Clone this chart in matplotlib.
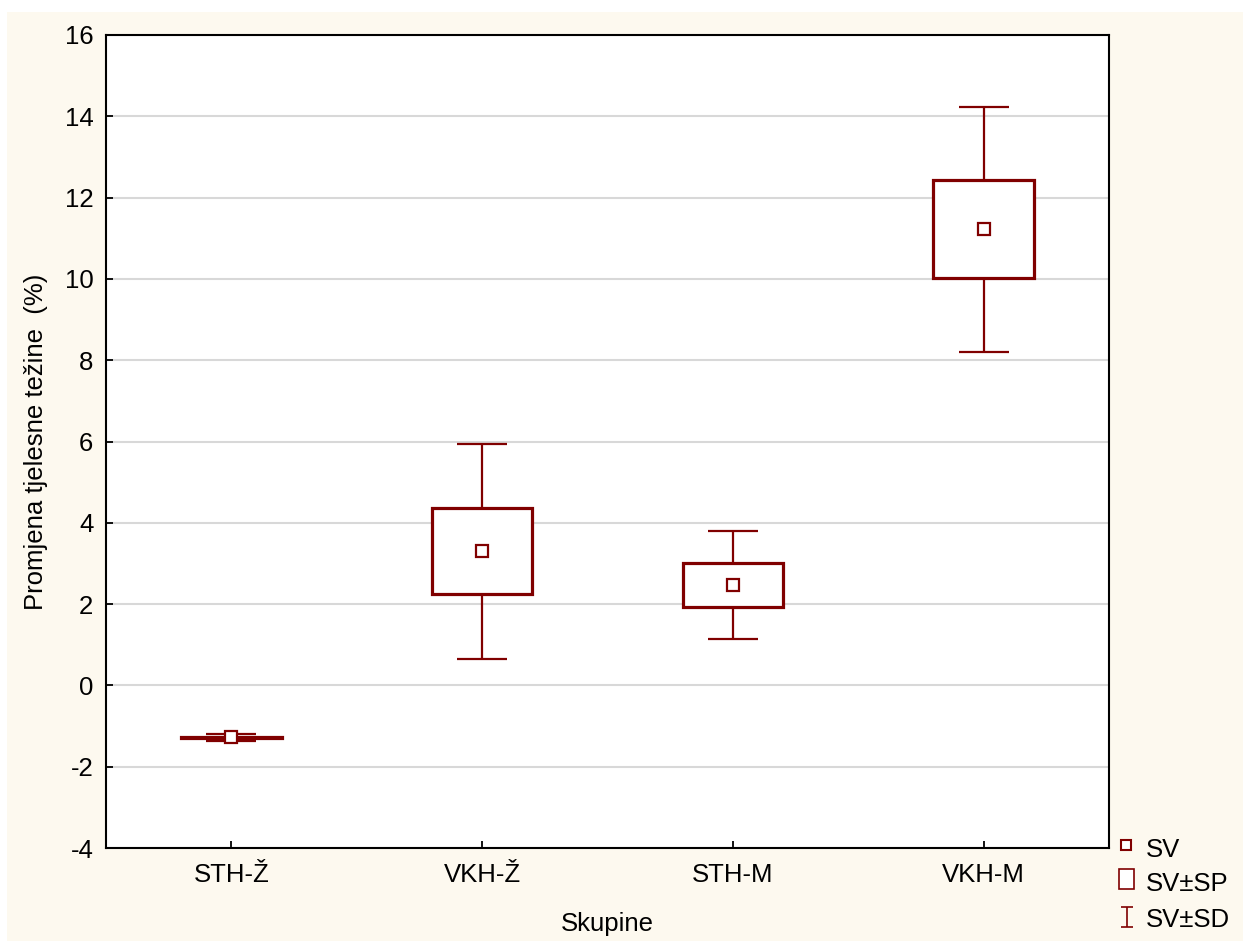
import matplotlib

matplotlib.use("Agg")

import matplotlib.font_manager as fm
import matplotlib.pyplot as plt
from matplotlib.patches import Rectangle

# drop the narrow variant so "Liberation Sans" resolves to the regular face
fm.fontManager.ttflist = [f for f in fm.fontManager.ttflist if "Narrow" not in f.fname]
plt.rcParams["font.family"] = ["Liberation Sans", "DejaVu Sans"]
plt.rcParams["axes.unicode_minus"] = False

# group statistics (mean, standard error, standard deviation)
groups = ["STH-Ž", "VKH-Ž", "STH-M", "VKH-M"]
means = [-1.28, 3.30, 2.47, 11.22]
se = [0.02, 1.06, 0.53, 1.21]
sd = [0.09, 2.64, 1.33, 3.02]
yticks = [-4, -2, 0, 2, 4, 6, 8, 10, 12, 14, 16]

RED = "#800000"
CREAM = "#fdf9ef"
FS = 18.5

fig = plt.figure(figsize=(12.47, 9.41), dpi=100, facecolor="white")
fig.patches.append(Rectangle((7 / 1247, 0), 1236 / 1247, 929 / 941, transform=fig.transFigure,
                             facecolor=CREAM, edgecolor="none", zorder=-10))
ax = fig.add_axes([106 / 1247, 1 - 848 / 941, 1003 / 1247, 813 / 941])
ax.set_facecolor("white")

box_w = 0.4
cap_w = 0.2
for i, (m, s, d) in enumerate(zip(means, se, sd)):
    x = i + 1
    ax.vlines(x, m + s, m + d, color=RED, lw=1.6, zorder=3)
    ax.vlines(x, m - d, m - s, color=RED, lw=1.6, zorder=3)
    ax.hlines([m - d, m + d], x - cap_w / 2, x + cap_w / 2, color=RED, lw=1.6, zorder=3)
    ax.add_patch(Rectangle((x - box_w / 2, m - s), box_w, 2 * s, facecolor="white",
                           edgecolor=RED, lw=2.3, zorder=4))
    ax.plot(x, m, marker="s", ms=8, mfc="white", mec=RED, mew=1.6, zorder=5)

ax.set_xlim(0.5, 4.5)
ax.set_ylim(-4, 16)
ax.set_yticks(yticks)
ax.set_xticks(range(1, len(groups) + 1))
ax.set_xticklabels(groups)
ax.yaxis.grid(True, color="#d8d8d8", lw=1.5, zorder=0)
ax.set_axisbelow(True)
ax.tick_params(direction="in", length=5, width=1.3, labelsize=FS, pad=9)
ax.tick_params(axis="x", pad=11)
for sp in ax.spines.values():
    sp.set_linewidth(1.5)
ax.set_xlabel("Skupine", fontsize=FS, labelpad=18)
ax.set_ylabel("Promjena tjelesne težine  (%)", fontsize=FS, labelpad=12)

# legend drawn by hand at the lower right
leg = fig.add_axes([1110 / 1247, 1 - 941 / 941, 137 / 1247, 120 / 941])
leg.set_xlim(0, 137)
leg.set_ylim(120, 0)
leg.axis("off")
leg.plot(16, 24, marker="s", ms=7, mfc="white", mec=RED, mew=1.5)
leg.add_patch(Rectangle((9, 48), 15, 20, facecolor="white", edgecolor=RED, lw=1.2))
leg.vlines(17, 86, 106, color=RED, lw=1.2)
leg.hlines([86, 106], 11, 23, color=RED, lw=1.2)
for y, label in zip([29, 63, 99], ["SV", "SV±SP", "SV±SD"]):
    leg.text(36, y, label, fontsize=FS, va="center", ha="left")

fig.savefig("out.png", dpi=100, facecolor=fig.get_facecolor())
